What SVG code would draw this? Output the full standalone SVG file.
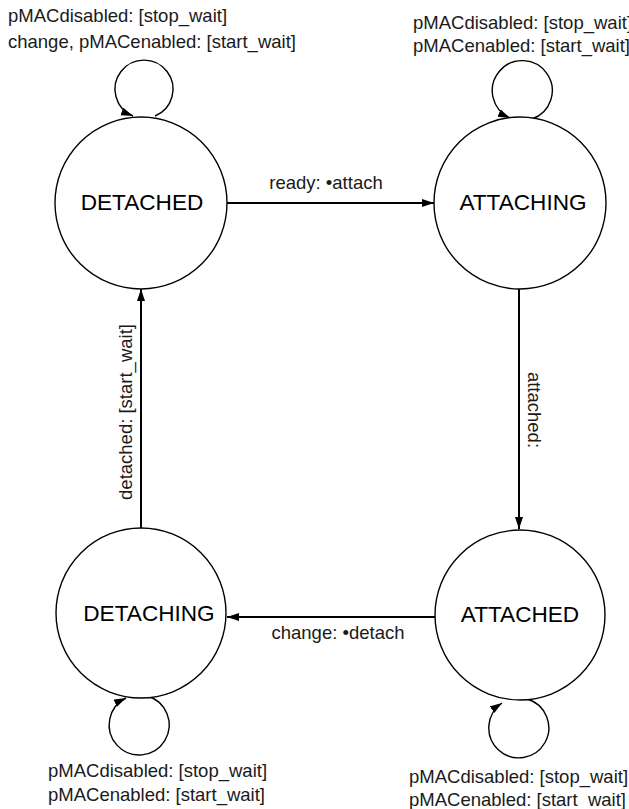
<svg xmlns="http://www.w3.org/2000/svg" width="629" height="809" viewBox="0 0 629 809">
  <style>
    .state { fill: #ffffff; stroke: #000000; stroke-width: 1.4; }
    .name { font-family: "Liberation Sans", Arial, sans-serif; font-size: 22.6px; fill: #000000; text-anchor: middle; }
    .lbl { font-family: "Liberation Sans", Arial, sans-serif; font-size: 18.5px; fill: #1a1a1a; }
    .mid { text-anchor: middle; }
    .edge { fill: none; stroke: #000000; stroke-width: 2; marker-end: url(#arrow); }
    .loop { fill: none; stroke: #000000; stroke-width: 1.4; marker-end: url(#arrow); }
  </style>
  <defs>
    <marker id="arrow" markerUnits="userSpaceOnUse" markerWidth="13" markerHeight="9" refX="12" refY="4" orient="auto">
      <path d="M0,0 L12,4 L0,8 z" fill="#000000"/>
    </marker>
  </defs>
  <rect width="629" height="809" fill="#ffffff"/>

  <!-- transitions between the four states -->
  <g id="connectors">
    <path class="edge" d="M226,203 L434,203"/>
    <path class="edge" d="M519,288 L519,529"/>
    <path class="edge" d="M435,617 L227,617"/>
    <path class="edge" d="M141,529 L141,289"/>
    <path class="loop" d="M155,116 A29,29 0 1 0 133,116"/>
    <path class="loop" d="M532,119 A30,30 0 1 0 510,118"/>
    <path class="loop" d="M147,696 A30,30 0 1 1 126,698"/>
    <path class="loop" d="M527,699 A30,30 0 1 1 502,703"/>
    <text class="lbl mid" x="326" y="189">ready: •attach</text>
    <text class="lbl mid" transform="translate(528,410) rotate(90)">attached:</text>
    <text class="lbl mid" x="338" y="639">change: •detach</text>
    <text class="lbl mid" transform="translate(132,412) rotate(-90)">detached: [start_wait]</text>
    <text class="lbl" x="8" y="22">pMACdisabled: [stop_wait]</text>
    <text class="lbl" x="8" y="48">change, pMACenabled: [start_wait]</text>
    <text class="lbl" x="413" y="29">pMACdisabled: [stop_wait]</text>
    <text class="lbl" x="413" y="52">pMACenabled: [start_wait]</text>
    <text class="lbl" x="48" y="777">pMACdisabled: [stop_wait]</text>
    <text class="lbl" x="48" y="801">pMACenabled: [start_wait]</text>
    <text class="lbl" x="409" y="783">pMACdisabled: [stop_wait]</text>
    <text class="lbl" x="409" y="806">pMACenabled: [start_wait]</text>
  </g>

  <g id="detached">
    <circle class="state" cx="141" cy="203" r="86"/>
    <text class="name" x="142" y="210">DETACHED</text>
  </g>
  <g id="attaching">
    <circle class="state" cx="520" cy="203" r="86"/>
    <text class="name" x="523" y="210">ATTACHING</text>
  </g>
  <g id="attached">
    <circle class="state" cx="520" cy="615" r="85"/>
    <text class="name" x="520" y="622">ATTACHED</text>
  </g>
  <g id="detaching">
    <circle class="state" cx="141" cy="613" r="85"/>
    <text class="name" x="149" y="621">DETACHING</text>
  </g>
</svg>
